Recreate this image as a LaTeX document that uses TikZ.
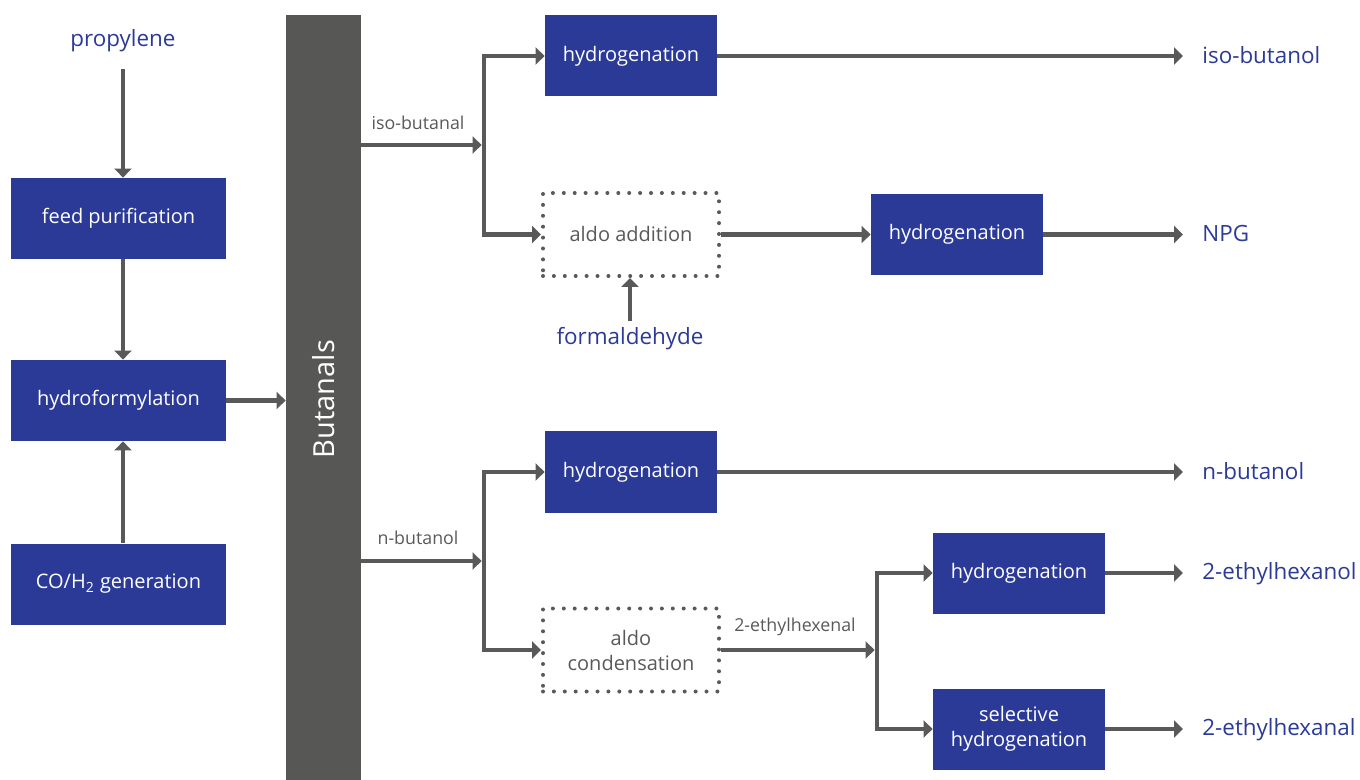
\documentclass[tikz,border=0pt]{standalone}
\usepackage{fontspec}
\setmainfont{Open Sans}
\usetikzlibrary{arrows.meta}
\definecolor{procblue}{HTML}{2B3A97}
\definecolor{flowgray}{HTML}{595959}
\definecolor{bargray}{HTML}{575756}

\begin{document}
\begin{tikzpicture}[x=0.5pt,y=-0.5pt,
  procbox/.style={rectangle,fill=procblue,text=white,minimum width=86pt,minimum height=40.5pt,align=center,inner sep=0pt,font=\fontsize{10}{12.5}\selectfont},
  widebox/.style={procbox,minimum width=107.5pt},
  dotbox/.style={rectangle,draw=flowgray,line width=2pt,line cap=round,dash pattern=on 0pt off 5.45pt,minimum width=88pt,minimum height=41.5pt,align=center,inner sep=0pt,text=flowgray,font=\fontsize{10}{12.5}\selectfont},
  product/.style={text=procblue,inner sep=0pt,text height=1.6ex,text depth=.45ex,font=\fontsize{11.2}{13}\selectfont},
  smalllabel/.style={text=flowgray,inner sep=0pt,font=\fontsize{8.9}{10}\selectfont},
  flow/.style={draw=flowgray,line width=2.3pt,-{Triangle[length=4.5pt,width=8.5pt]}}]

\useasboundingbox (0,0) rectangle (1360,780);

\node[product,anchor=center] (propylene) at (123,40) {propylene};
\node[widebox] (feed) at (118.5,218.5) {feed purification};
\node[widebox] (hydroform) at (118.5,400.5) {hydroformylation};
\node[widebox] (cogen) at (118.5,584) {CO/H\textsubscript{2} generation};

\node[rectangle,fill=bargray,minimum width=37.5pt,minimum height=382.5pt,inner sep=0pt] (bar) at (323.5,397.5) {};
\node[rotate=90,text=white,font=\fontsize{14.5}{16}\selectfont] (barlabel) at (323.5,399) {Butanals};

\node[procbox] (hyd1) at (631,56) {hydrogenation};
\node[dotbox] (aldoadd) at (631,234.5) {aldo addition};
\node[procbox] (hyd2) at (957,234.5) {hydrogenation};
\node[product,anchor=center] (formal) at (630,338) {formaldehyde};
\node[procbox] (hyd3) at (631,472) {hydrogenation};
\node[dotbox] (aldocon) at (631,650) {aldo\\condensation};
\node[procbox] (hyd4) at (1019,573) {hydrogenation};
\node[procbox] (selhyd) at (1019,729) {selective\\hydrogenation};

\node[product,anchor=west] (isobutanol) at (1202,57) {iso-butanol};
\node[product,anchor=west] (npg) at (1202,235) {NPG};
\node[product,anchor=west] (nbutanol) at (1202,473) {n-butanol};
\node[product,anchor=west] (ehexanol) at (1202,573) {2-ethylhexanol};
\node[product,anchor=west] (ehexanal) at (1202,729) {2-ethylhexanal};

\node[smalllabel] (isolabel) at (418,123) {iso-butanal};
\node[smalllabel] (nlabel) at (418,538) {n-butanol};
\node[smalllabel] (ehlabel) at (795,627) {2-ethylhexenal};

\coordinate (isoj) at (484,145);
\coordinate (nj) at (484,561);
\coordinate (ehj) at (877,650);

\draw[flow,shorten <=9pt] (propylene) -- (propylene |- feed.north);
\draw[flow] (feed.south -| propylene) -- (hydroform.north -| propylene);
\draw[flow] (cogen.north -| propylene) -- (hydroform.south -| propylene);
\draw[flow] (hydroform) -- (hydroform -| bar.west);

\draw[flow,shorten >=1.2pt] (bar.east |- isoj) -- (isoj);
\draw[flow] (isoj) |- (hyd1);
\draw[flow] (isoj) |- (aldoadd);
\draw[flow] (aldoadd) -- (hyd2);
\draw[flow,shorten <=3pt] (formal.north) -- (formal.north |- aldoadd.south);
\draw[flow,shorten >=9.5pt] (hyd1) -- (hyd1 -| isobutanol.west);
\draw[flow,shorten >=9.5pt] (hyd2) -- (hyd2 -| npg.west);

\draw[flow,shorten >=1.2pt] (bar.east |- nj) -- (nj);
\draw[flow] (nj) |- (hyd3);
\draw[flow] (nj) |- (aldocon);
\draw[flow,shorten >=9.5pt] (hyd3) -- (hyd3 -| nbutanol.west);
\draw[flow,shorten >=1.2pt] (aldocon) -- (ehj);
\draw[flow] (ehj) |- (hyd4);
\draw[flow] (ehj) |- (selhyd);
\draw[flow,shorten >=9.5pt] (hyd4) -- (hyd4 -| ehexanol.west);
\draw[flow,shorten >=9.5pt] (selhyd) -- (selhyd -| ehexanal.west);

\end{tikzpicture}
\end{document}
